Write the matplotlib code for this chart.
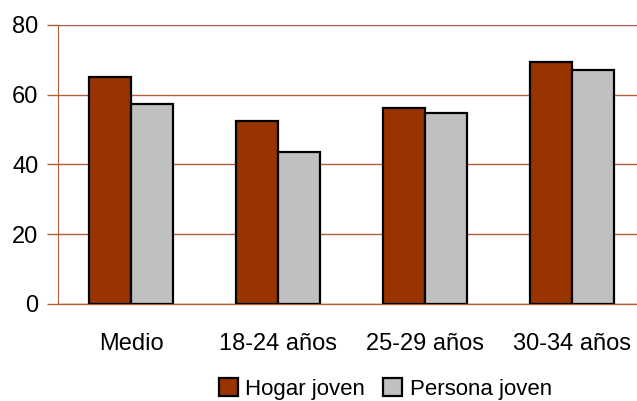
import numpy as np
import matplotlib.pyplot as plt

# Datos
categorias = ['Medio', '18-24 años', '25-29 años', '30-34 años']
hogar_joven = [65, 52.5, 56.3, 69.4]
persona_joven = [57.3, 43.7, 54.8, 67.2]
y_ticks = [0, 20, 40, 60, 80]

plt.rcParams['font.family'] = ['Liberation Sans', 'DejaVu Sans']

marron = '#993300'
linea = '#b0603a'

fig = plt.figure(figsize=(6.37, 4.01), dpi=100)
ax = fig.add_axes([0.0911, 0.2419, 0.9222, 0.6958])

x = np.arange(len(categorias))
ancho = 0.286
ax.bar(x - ancho / 2, hogar_joven, ancho, color=marron, edgecolor='black',
       linewidth=1.6, label='Hogar joven', zorder=3)
ax.bar(x + ancho / 2, persona_joven, ancho, color='#c0c0c0', edgecolor='black',
       linewidth=1.6, label='Persona joven', zorder=3)

ax.set_xlim(-0.5, 3.5)
ax.set_ylim(0, 80)
ax.set_yticks(y_ticks)
ax.set_xticks(x)
ax.set_xticklabels(categorias, fontsize=17)
ax.tick_params(axis='y', labelsize=17, length=8, color=linea, width=1, pad=6)
ax.tick_params(axis='x', length=0, pad=21)
ax.yaxis.grid(True, color=linea, linewidth=1, zorder=0)

for lado in ['top', 'right']:
    ax.spines[lado].set_visible(False)
ax.spines['left'].set_color(linea)
ax.spines['bottom'].set_color(linea)
ax.spines['bottom'].set_linewidth(1)

fig.legend(loc='center', bbox_to_anchor=(0.605, 0.03), ncol=2, frameon=False,
           fontsize=16, handlelength=0.85, handleheight=0.85, handletextpad=0.35,
           columnspacing=0.8)

fig.savefig('out.png', dpi=100)
